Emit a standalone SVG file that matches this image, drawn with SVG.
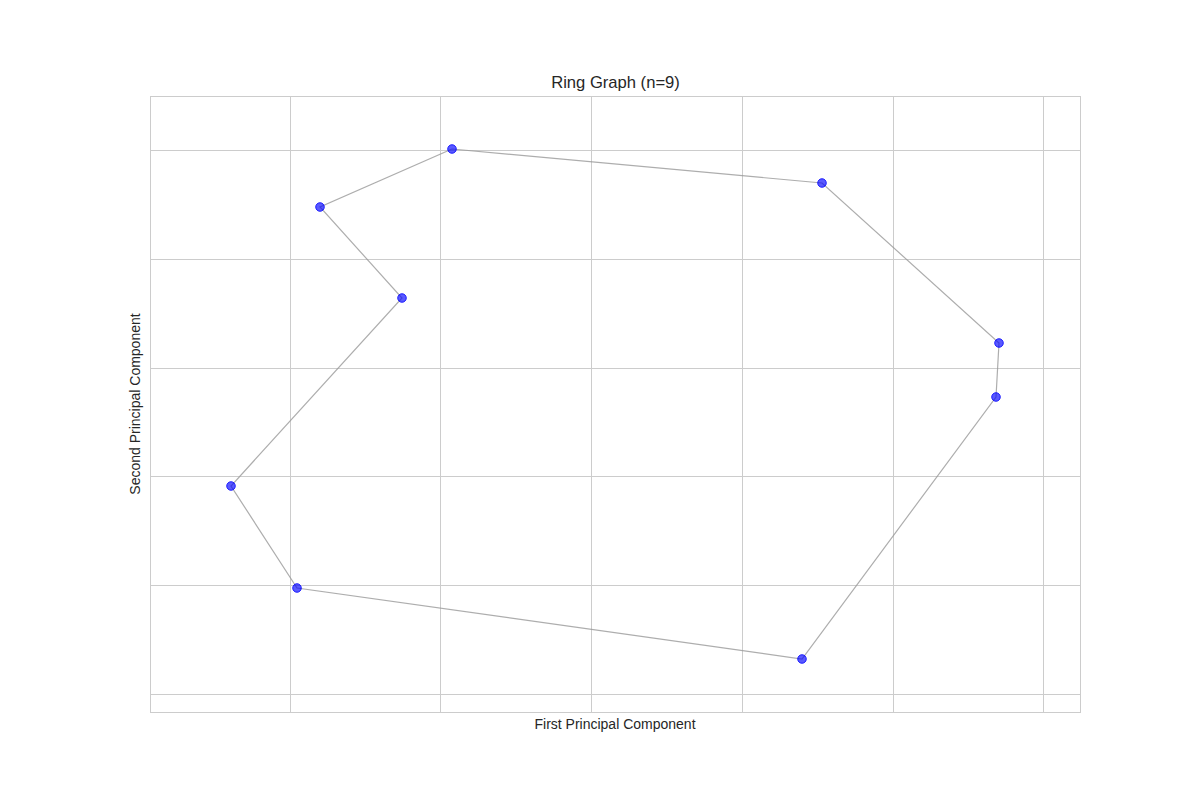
<svg xmlns="http://www.w3.org/2000/svg" width="1200" height="800" viewBox="0 0 1200 800">
<style>
.grid{stroke:#cccccc;stroke-width:1;fill:none}
.frame{stroke:#cccccc;stroke-width:1;fill:none}
.edge{stroke:#999999;stroke-opacity:0.8;stroke-width:1.2;fill:none}
.node{fill:#0000ff;fill-opacity:0.65;stroke:#0000ff;stroke-opacity:0.8;stroke-width:1}
.lbl{font-family:"Liberation Sans",Arial,sans-serif;fill:#262626}
</style>
<rect width="1200" height="800" fill="#ffffff"/>
<g id="grid">
<path class="grid" d="M290.5 96V712M440.5 96V712M591.5 96V712M742.5 96V712M893.5 96V712M1043.5 96V712"/>
<path class="grid" d="M150 150.5H1080M150 259.5H1080M150 368.5H1080M150 476.5H1080M150 585.5H1080M150 694.5H1080"/>
<rect class="frame" x="150.5" y="96.5" width="930" height="616"/>
</g>
<g id="connectors">
<polyline class="edge" points="452,149 822,183 999,343 996,397 802,659 297,588 231,486 402,298 320,207 452,149"/>
</g>
<g id="n0"><circle class="node" cx="452" cy="149" r="4.3"/></g>
<g id="n1"><circle class="node" cx="822" cy="183" r="4.3"/></g>
<g id="n2"><circle class="node" cx="999" cy="343" r="4.3"/></g>
<g id="n3"><circle class="node" cx="996" cy="397" r="4.3"/></g>
<g id="n4"><circle class="node" cx="802" cy="659" r="4.3"/></g>
<g id="n5"><circle class="node" cx="297" cy="588" r="4.3"/></g>
<g id="n6"><circle class="node" cx="231" cy="486" r="4.3"/></g>
<g id="n7"><circle class="node" cx="402" cy="298" r="4.3"/></g>
<g id="n8"><circle class="node" cx="320" cy="207" r="4.3"/></g>
<text class="lbl" x="615.5" y="88" font-size="16.6" text-anchor="middle">Ring Graph (n=9)</text>
<text class="lbl" x="615" y="729" font-size="14" text-anchor="middle">First Principal Component</text>
<text class="lbl" x="140" y="404" font-size="14" text-anchor="middle" transform="rotate(-90 140 404)">Second Principal Component</text>
</svg>
